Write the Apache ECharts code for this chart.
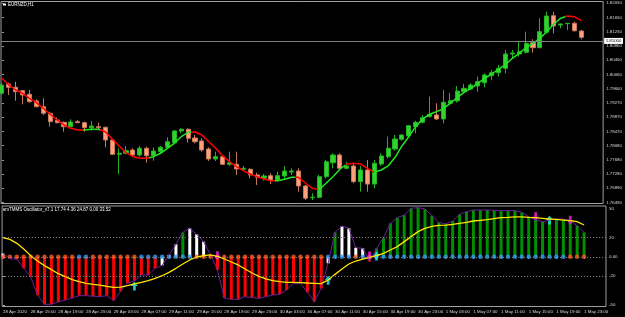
<!DOCTYPE html>
<html>
<head>
<meta charset="utf-8">
<script src="https://cdn.jsdelivr.net/npm/echarts@6/dist/echarts.min.js"></script>
<style>
html, body { margin: 0; padding: 0; background: #000; }
#chart { width: 625px; height: 317px; }
</style>
</head>
<body>
<div id="chart"></div>
<script>
// EURNZD H1, 28 Apr 11:00 .. 1 May 23:00 (85 bars)
let openVals = [1.79539,1.79798,1.79706,1.79612,1.79511,1.79324,1.79165,1.78981,1.78794,1.78730,
    1.78607,1.78747,1.78719,1.78579,1.78607,1.78591,1.78236,1.77837,1.77865,1.77957,
    1.77818,1.78005,1.77798,1.77910,1.78032,1.78160,1.78487,1.78535,1.78292,1.78208,
    1.77985,1.77706,1.77770,1.77558,1.77558,1.77419,1.77419,1.77260,1.77168,1.77240,
    1.77120,1.77232,1.77343,1.77371,1.76953,1.76626,1.76637,1.77212,1.77603,1.77818,
    1.77446,1.77511,1.77073,1.77399,1.77006,1.77566,1.77770,1.77985,1.78255,1.78348,
    1.78607,1.78730,1.78886,1.78934,1.78822,1.79260,1.79324,1.79584,1.79659,1.79743,
    1.79835,1.80030,1.80114,1.80236,1.80635,1.80635,1.80683,1.80951,1.80811,1.81241,
    1.81704,1.81445,1.81481,1.81492,1.81277]
let closeVals = [1.79770,1.79706,1.79584,1.79492,1.79305,1.79165,1.78981,1.78747,1.78719,1.78607,
    1.78738,1.78719,1.78579,1.78627,1.78579,1.78236,1.77837,1.77865,1.77938,1.77818,
    1.78005,1.77798,1.77929,1.78032,1.78188,1.78487,1.78535,1.78283,1.78188,1.77957,
    1.77706,1.77770,1.77558,1.77603,1.77427,1.77446,1.77260,1.77195,1.77232,1.77120,
    1.77240,1.77371,1.77371,1.76953,1.76610,1.76637,1.77212,1.77631,1.77818,1.77446,
    1.77511,1.77073,1.77399,1.77006,1.77586,1.77790,1.78005,1.78264,1.78375,1.78635,
    1.78730,1.78858,1.78953,1.78822,1.79288,1.79332,1.79603,1.79678,1.79770,1.79863,
    1.80050,1.80114,1.80236,1.80635,1.80663,1.80700,1.80934,1.80811,1.81258,1.81696,
    1.81417,1.81472,1.81492,1.81285,1.81100]
let lowVals = [1.79492,1.79492,1.79332,1.79232,1.79277,1.79148,1.78934,1.78607,1.78702,1.78468,
    1.78579,1.78702,1.78468,1.78496,1.78535,1.78032,1.77818,1.77287,1.77837,1.77770,
    1.77770,1.77603,1.77659,1.77865,1.78005,1.78124,1.78423,1.78160,1.78144,1.77910,
    1.77650,1.77650,1.77539,1.77511,1.77260,1.77371,1.77168,1.76981,1.77100,1.77006,
    1.77073,1.77140,1.77260,1.76794,1.76562,1.76562,1.76610,1.77168,1.77446,1.77419,
    1.77419,1.77028,1.76794,1.76794,1.76888,1.77511,1.77726,1.77938,1.78216,1.78328,
    1.78423,1.78702,1.78869,1.78794,1.78702,1.79213,1.79277,1.79539,1.79632,1.79584,
    1.79706,1.79910,1.80002,1.80097,1.80524,1.80560,1.80655,1.80672,1.80794,1.81213,
    1.81213,1.81352,1.81305,1.81258,1.81045]
let highVals = [1.79826,1.79835,1.79863,1.79632,1.79632,1.79372,1.79399,1.79026,1.78869,1.78747,
    1.78813,1.78794,1.78747,1.78766,1.78719,1.78607,1.78255,1.78005,1.78069,1.78005,
    1.78069,1.78049,1.78032,1.78069,1.78311,1.78515,1.78562,1.78562,1.78375,1.78283,
    1.78032,1.77910,1.77818,1.77910,1.77910,1.77511,1.77446,1.77324,1.77287,1.77307,
    1.77352,1.77511,1.77446,1.77446,1.76981,1.76749,1.77260,1.77678,1.77865,1.77865,
    1.77631,1.77566,1.77511,1.77678,1.77678,1.77865,1.78328,1.78375,1.78403,1.78655,
    1.78774,1.78934,1.79444,1.79260,1.79632,1.79556,1.79743,1.79798,1.79818,1.80002,
    1.80097,1.80189,1.80329,1.80747,1.80747,1.80979,1.81258,1.81045,1.81631,1.81816,
    1.81816,1.81492,1.81492,1.81537,1.81305]
// smoothed average on the price chart
let maVals = [1.79957,1.79771,1.79631,1.79539,1.79399,1.79277,1.79120,1.78953,1.78794,1.78655,
    1.78562,1.78515,1.78515,1.78535,1.78535,1.78468,1.78264,1.78069,1.77882,1.77770,
    1.77725,1.77725,1.77770,1.77865,1.78004,1.78144,1.78328,1.78451,1.78459,1.78376,
    1.78189,1.78004,1.77798,1.77631,1.77491,1.77380,1.77287,1.77212,1.77148,1.77101,
    1.77101,1.77140,1.77195,1.77195,1.77036,1.76888,1.76855,1.77028,1.77212,1.77419,
    1.77566,1.77586,1.77566,1.77446,1.77335,1.77399,1.77511,1.77753,1.78069,1.78328,
    1.78607,1.78822,1.78953,1.79026,1.79109,1.79260,1.79416,1.79567,1.79678,1.79818,
    1.79957,1.80077,1.80209,1.80337,1.80515,1.80655,1.80811,1.80934,1.81073,1.81258,
    1.81472,1.81631,1.81696,1.81676,1.81565]
// bar ranges where the average is drawn red (falling)
let maDownSpans = [[-1, 11.8], [14.2, 21.4], [27.4, 39.6], [42.5, 45.9], [49.7, 54], [81.7, 90]]

// oscillator
let histVals = [3.5,-2,-2.5,-12,-21,-40,-49.5,-49.5,-47,-45,
    -43,-40.5,-40.5,-41,-41.5,-40.5,-45.5,-36,-27.5,-25,
    -19,-19,-12,-9,2,13,25.5,29.7,23.4,15.8,
    2,-13.7,-43,-44.3,-44.3,-41.5,-42.6,-43.2,-41.5,-39.8,
    -39,-34.6,-27.6,-27.6,-37,-46.7,-33,-6.8,25.5,32,
    29.7,9.5,8.8,-5,8.8,19.9,34.9,40.8,43.5,50.5,
    51.2,49.8,42.8,35.9,34.2,37.3,44.2,47,48.8,48.8,
    48.8,48.4,48.1,48.1,48.1,46.3,41.8,38.3,36.6,38.3,
    39.4,39.4,37.3,32.4,25.5]
let histColors = ['w','r','r','r','r','r','r','r','r','r',
    'r','r','r','r','r','r','r','r','r','r',
    'r','r','r','w','w','w','g','w','w','w',
    'w','r','r','r','r','r','r','r','r','r',
    'r','r','r','r','r','r','r','w','g','w',
    'w','w','w','r','g','g','g','g','g','g',
    'g','g','g','g','g','g','g','g','g','g',
    'g','g','g','g','g','g','g','g','g','g',
    'g','g','g','g','g']
let signalVals = [19.9,18.2,14,8.1,1.2,-4.4,-9.2,-13.4,-17.6,-20.7,
    -23.8,-25.9,-27.6,-28.7,-29.4,-30.8,-31.8,-31.5,-30,-28.3,
    -26.6,-24.9,-22.4,-19.7,-16.2,-12,-7.5,-3.3,-0.2,1.2,
    1.9,0.5,-2.3,-5.4,-8.5,-12.7,-16.9,-20.3,-23.1,-24.9,
    -25.9,-26.6,-26.6,-26.9,-27.3,-27.6,-28,-24.2,-18.3,-12.7,
    -7.5,-4.4,-2.3,-0.6,1.2,3.6,7.1,10.6,15.8,21,
    26.2,29.7,31.7,32.8,33.1,33.8,34.9,35.9,37.3,38,
    38.7,39.7,40.8,41.1,41.5,41.5,41.1,40.8,40.1,39.4,
    39,38.3,37.6,36.6,33.1]
let dotColors = ['o','o','o','o','o','o','o','o','o','o',
    'o','b','b','o','o','o','o','o','o','o',
    'b','b','b','b','b','b','b','b','o','o',
    'o','o','o','o','o','o','o','o','o','o',
    'o','o','o','o','o','o','o','b','b','b',
    'b','o','b','o','b','b','b','b','b','b',
    'b','b','b','b','b','b','b','b','b','b',
    'b','b','b','b','b','b','b','b','b','b',
    'b','b','o','o','o']
let upArrowIdx = [19, 47, 54, 79]
let upArrowVals = [-30.4, -24.5, 0.8, 38.3]
let downArrowIdx = [31, 53, 77, 82]
let downArrowVals = [1.1, 0.8, 41.8, 38]

let xTickIdx = [0,4,8,12,16,20,24,28,32,36,40,44,48,52,56,60,64,68,72,76,80,84]
let xLabels = ['28 Apr 2020','28 Apr 15:00','28 Apr 19:00','28 Apr 23:00','29 Apr 03:00','29 Apr 07:00',
    '29 Apr 11:00','29 Apr 15:00','29 Apr 19:00','29 Apr 23:00','30 Apr 03:00','30 Apr 07:00',
    '30 Apr 11:00','30 Apr 15:00','30 Apr 19:00','30 Apr 23:00','1 May 03:00','1 May 07:00',
    '1 May 11:00','1 May 15:00','1 May 19:00','1 May 23:00']
let priceTicks = [1.82050,1.81650,1.81250,1.80860,1.80460,1.80060,1.79660,1.79270,
    1.78870,1.78470,1.78080,1.77680,1.77280,1.76890,1.76490]
let oscTicks = [50, 20, 0, -20, -50]
let oscLevels = [20, 0, -20]

const frameColor = '#a0a0a0'
const labelFont = { color: '#d8d8d8', fontSize: 4.4, fontFamily: 'Liberation Sans' }
const histPalette = { r: '#ff0000', g: '#008f00', w: '#ffffff' }
const dotPalette = { o: '#ff5a1a', b: '#2f9cf5' }

let candleData = openVals.map((o, i) => [i, o, closeVals[i], lowVals[i], highVals[i]])
let maData = maVals.map((v, i) => [i, v])
let histData = histVals.map((v, i) => ({ value: [i, v], itemStyle: { color: histPalette[histColors[i]] } }))
let envData = histVals.map((v, i) => [i, v])
let signalData = signalVals.map((v, i) => [i, v])
let dotData = dotColors.map((c, i) => ({ value: [i, 0], itemStyle: { color: dotPalette[c] } }))
let upData = upArrowIdx.map((i, k) => [i, upArrowVals[k]])
let downData = downArrowIdx.map((i, k) => [i, downArrowVals[k]])

const upPath = 'path://M5,0 L10,5 L7,5 L7,10 L3,10 L3,5 L0,5 Z'
const downPath = 'path://M3,0 L7,0 L7,5 L10,5 L5,10 L0,5 L3,5 Z'

let chart = echarts.init(document.getElementById('chart'), null, { renderer: 'canvas' })
chart.setOption({
    backgroundColor: '#000',
    animation: false,
    grid: [
        { left: 1, right: 19, top: 1.5, height: 202, show: true, borderColor: frameColor, borderWidth: 1, backgroundColor: 'transparent' },
        { left: 1, right: 19, top: 206, height: 100.5, show: true, borderColor: frameColor, borderWidth: 1, backgroundColor: 'transparent' }
    ],
    xAxis: [
        { type: 'value', gridIndex: 0, min: -0.13, max: 87.17, show: false },
        {
            type: 'value', gridIndex: 1, min: -0.13, max: 87.17,
            axisLine: { show: false },
            splitLine: { show: false },
            axisTick: { show: true, customValues: xTickIdx, length: 2, lineStyle: { color: frameColor } },
            axisLabel: Object.assign({
                customValues: xTickIdx, align: 'left', margin: 3.5,
                formatter: v => xLabels[xTickIdx.indexOf(v)]
            }, labelFont)
        }
    ],
    yAxis: [
        {
            type: 'value', gridIndex: 0, position: 'right', min: 1.76464, max: 1.82100, scale: true,
            axisLine: { show: false },
            splitLine: { show: false },
            axisTick: { show: true, customValues: priceTicks, length: 2, lineStyle: { color: frameColor } },
            axisLabel: Object.assign({ customValues: priceTicks, margin: 3, formatter: v => v.toFixed(5) }, labelFont)
        },
        {
            type: 'value', gridIndex: 1, position: 'right', min: -51.77, max: 52.92,
            axisLine: { show: false },
            splitLine: { show: false },
            axisTick: { show: true, customValues: oscTicks, length: 2, lineStyle: { color: frameColor } },
            axisLabel: Object.assign({ customValues: oscTicks, margin: 3, formatter: v => v === 0 ? '0.00' : String(v) }, labelFont)
        }
    ],
    visualMap: [{
        type: 'piecewise', show: false, seriesIndex: 1, dimension: 0,
        pieces: maDownSpans.map(s => ({ gte: s[0], lt: s[1], color: '#ff0000' })),
        outOfRange: { color: '#1ee61e' }
    }],
    graphic: [
        { type: 'rect', left: 3, top: 3.5, shape: { width: 3, height: 2 }, style: { fill: '#ffffff' } },
        { type: 'text', left: 8, top: 2.3, style: { text: 'EURNZD,H1', fill: '#ffffff', fontSize: 4.5, fontFamily: 'Liberation Sans' } },
        { type: 'text', left: 3, top: 207.5, style: { text: 'smTMMS Oscillator_v7.1 17.74 4.36 24.87 0.00 33.52', fill: '#ffffff', fontSize: 4.5, fontFamily: 'Liberation Sans' } }
    ],
    series: [
        {
            type: 'candlestick', xAxisIndex: 0, yAxisIndex: 0,
            data: candleData, encode: { x: 0, y: [1, 2, 3, 4] },
            barWidth: 4.6,
            itemStyle: { color: '#32d232', color0: '#ffa07a', borderColor: '#22b422', borderColor0: '#c8785a', borderWidth: 1 },
            markLine: {
                silent: true, symbol: 'none',
                lineStyle: { color: '#808080', type: 'solid', width: 1 },
                label: {
                    show: true, position: 'end', distance: 1,
                    formatter: p => p.value.toFixed(5),
                    backgroundColor: '#ffffff', color: '#000000', padding: [1, 1.5],
                    fontSize: 4.4, fontFamily: 'Liberation Sans'
                },
                data: [{ yAxis: closeVals[closeVals.length - 1] }]
            }
        },
        {
            type: 'line', xAxisIndex: 0, yAxisIndex: 0, data: maData,
            showSymbol: false, lineStyle: { width: 1.5 }
        },
        {
            type: 'bar', xAxisIndex: 1, yAxisIndex: 1, data: histData, barWidth: 3,
            markLine: {
                silent: true, symbol: 'none', label: { show: false },
                lineStyle: { color: '#8a8a8a', type: [1, 2], width: 1 },
                data: oscLevels.map(v => ({ yAxis: v }))
            }
        },
        {
            type: 'line', xAxisIndex: 1, yAxisIndex: 1, data: envData,
            showSymbol: false, lineStyle: { color: '#6a1e9a', width: 1 }
        },
        {
            type: 'line', xAxisIndex: 1, yAxisIndex: 1, data: signalData,
            showSymbol: false, lineStyle: { color: '#ffe600', width: 1.3 }
        },
        {
            type: 'scatter', xAxisIndex: 1, yAxisIndex: 1, data: dotData, symbolSize: 4.5
        },
        {
            type: 'scatter', xAxisIndex: 1, yAxisIndex: 1, data: upData,
            symbol: upPath, symbolSize: [7, 9], itemStyle: { color: '#29f0f0' }
        },
        {
            type: 'scatter', xAxisIndex: 1, yAxisIndex: 1, data: downData,
            symbol: downPath, symbolSize: [7, 9], itemStyle: { color: '#ff22e0' }
        }
    ]
})
</script>
</body>
</html>
